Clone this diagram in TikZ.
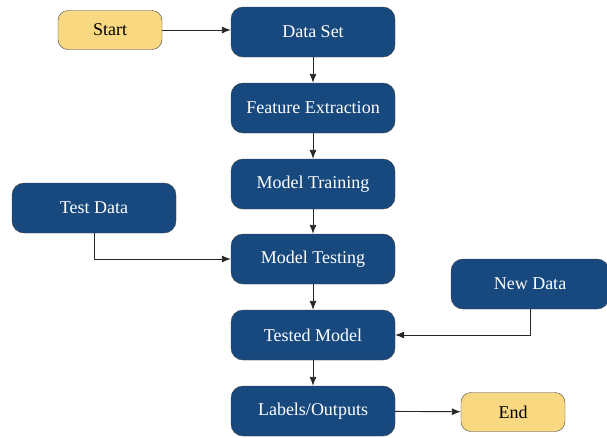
\documentclass[tikz,border=0pt]{standalone}
\usepackage{fontspec}
\setmainfont{Liberation Serif}
\usetikzlibrary{arrows.meta}
\definecolor{boxblue}{HTML}{18497E}
\definecolor{boxyellow}{HTML}{F9D882}
\tikzset{
    stage/.style={draw=black!75, fill=boxblue, text=white, rounded corners=12pt,
        minimum width=164pt, minimum height=50pt, font=\fontsize{18}{21}\selectfont},
    terminal/.style={draw=black!75, fill=boxyellow, text=black, rounded corners=10pt,
        minimum width=104pt, minimum height=39pt, font=\fontsize{18}{21}\selectfont},
    flow/.style={-{Latex[length=9pt, width=7pt]}, black!85, line width=0.9pt}
}
\begin{document}
\begin{tikzpicture}[x=1pt, y=-1pt]
    \useasboundingbox (0, 0) rectangle (607, 437);

    \node[terminal] (start) at (110, 30) {Start};
    \node[stage] (dataset) at (313, 32) {Data Set};
    \node[stage] (features) at (313, 108) {Feature Extraction};
    \node[stage] (training) at (313, 184) {Model Training};
    \node[stage] (testdata) at (94, 208) {Test Data};
    \node[stage] (testing) at (313, 259) {Model Testing};
    \node[stage, minimum width=158pt] (newdata) at (530, 284) {New Data};
    \node[stage] (tested) at (313, 335) {Tested Model};
    \node[stage] (outputs) at (313, 411) {Labels/Outputs};
    \node[terminal] (end) at (513, 412) {End};

    \draw[flow] (start) -- (dataset.west |- start);
    \draw[flow] (dataset) -- (features);
    \draw[flow] (features) -- (training);
    \draw[flow] (training) -- (testing);
    \draw[flow] (testdata.south) |- (testing.west);
    \draw[flow] (testing) -- (tested);
    \draw[flow] (newdata.south) |- (tested.east);
    \draw[flow] (tested) -- (outputs);
    \draw[flow] (outputs) -- (end);
\end{tikzpicture}
\end{document}
